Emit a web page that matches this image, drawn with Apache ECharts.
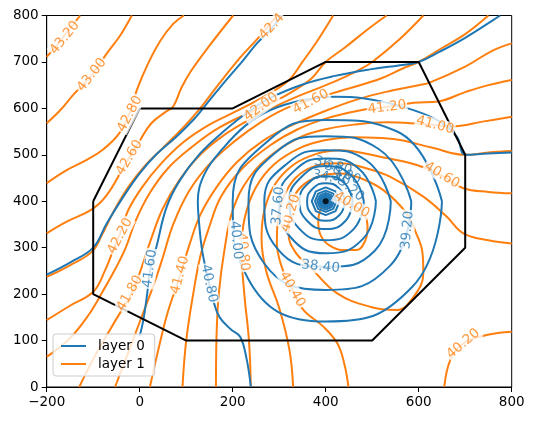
<!DOCTYPE html>
<html>
<head>
<meta charset="utf-8">
<script src="https://cdn.jsdelivr.net/npm/echarts/dist/echarts.min.js"></script>
<style>
  html, body { margin: 0; padding: 0; background: #fff; }
  #chart { width: 534px; height: 421px; }
</style>
</head>
<body>
<div id="chart"></div>
<script>
// axis ticks
const xTicks = [-200, 0, 200, 400, 600, 800];
const yTicks = [0, 100, 200, 300, 400, 500, 600, 700, 800];

// model boundary and well
const boundary = [[-100,400],[0,600],[200,600],[400,700],[600,700],[700,500],[700,300],[500,100],[100,100],[-100,200],[-100,400]];
const well = [[400,400]];

// layer 1 (orange) contour lines
const o432 = [[-200,711],[-175,740],[-150,772],[-128,800]];
const o430 = [[-200,568],[-171,596],[-143,629],[-103,672],[-71,718],[-42,757],[-17,800]];
const o428 = [[-200,439],[-157,467],[-114,489],[-78,512],[-45,545],[-22,590],[-6,640],[15,690],[44,745],[72,782],[95,800]];
const o426 = [[-200,331],[-157,356],[-102,383],[-71,413],[-32,478],[0,530],[25,568],[55,592],[72,604],[90,645],[110,680],[150,735],[201,800]];
const o424 = [[-200,237],[-150,262],[-102,292],[-80,330],[-55,380],[-25,430],[10,475],[50,515],[90,555],[130,600],[170,652],[215,708],[255,752],[295,800]];
const o422 = [[-200,144],[-150,175],[-100,205],[-75,250],[-55,300],[-42,331],[-25,380],[5,430],[45,480],[95,528],[150,565],[210,595],[270,627],[320,660],[350,700],[385,750],[416,800]];
const o420 = [[-200,65],[-150,105],[-110,155],[-80,205],[-52,255],[-30,300],[-10,355],[20,415],[60,470],[110,515],[170,558],[262,603],[300,620],[330,637],[370,665],[400,700],[440,730],[490,770],[531,800]];
const o418 = [[-130,0],[-100,60],[-60,130],[-30,180],[-14,209],[5,260],[25,320],[50,385],[85,445],[130,500],[185,545],[240,578],[300,608],[350,630],[420,658],[470,682],[500,700],[560,750],[610,800]];
const o416 = [[-53,0],[-30,60],[0,140],[30,220],[50,280],[72,350],[105,420],[150,480],[205,530],[260,570],[310,598],[366,618],[440,640],[520,665],[570,688],[600,700],[650,730],[700,760],[750,800]];
const o414 = [[22,0],[40,80],[60,160],[87,240],[105,300],[130,370],[165,430],[210,485],[265,530],[330,565],[400,595],[470,620],[540,638],[600,650],[622,655],[700,690],[760,725],[800,740]];
const o412 = [[92,0],[100,100],[115,200],[130,280],[148,340],[175,410],[220,470],[280,520],[340,555],[400,578],[470,595],[531,603],[590,612],[642,615],[700,635],[750,650],[800,661]];
const o410 = [[164,0],[165,100],[170,200],[183,300],[200,380],[235,450],[290,505],[350,540],[400,555],[460,565],[530,570],[600,567],[635,564],[670,561],[740,572],[800,582]];
const o408 = [[239,0],[235,100],[225,200],[219,295],[226,365],[250,430],[290,480],[345,515],[400,532],[460,538],[520,536],[560,532],[630,515],[700,500],[750,505],[800,508]];
const o406 = [[330,0],[322,80],[300,170],[272,250],[262,320],[268,380],[290,435],[330,478],[380,502],[431,510],[517,496],[596,478],[653,453],[696,428],[750,420],[800,417]];
const o404 = [[449,0],[440,50],[425,94],[395,130],[352,166],[327,212],[305,260],[295,310],[297,360],[310,410],[335,450],[375,475],[431,482],[490,470],[538,453],[610,410],[660,367],[696,331],[750,316],[800,309]];
const o402a = [[323,370],[320,330],[335,290],[366,259],[424,202],[495,173],[553,166],[589,194],[610,245],[608,290],[595,330],[574,374],[524,424],[474,450],[431,460],[390,455],[355,438],[332,410],[323,370]];
const o402b = [[655,0],[668,58],[696,94],[746,112],[800,119]];
const o400 = [[400,400],[388,380],[384,355],[390,325],[408,305],[435,295],[467,295],[485,315],[490,345],[484,370],[465,388],[440,398],[415,402],[400,400]];

// layer 0 (blue) contour lines
const b424 = [[-200,242],[-150,268],[-100,300],[-71,352],[-35,410],[0,460],[35,500],[80,540],[115,575],[137,601],[180,654],[223,704],[252,740],[280,768],[305,800]];
const b416 = [[0,110],[8,145],[16,200],[22,250],[36,302],[58,388],[87,446],[130,503],[180,550],[230,590],[280,622],[352,652],[420,670],[495,684],[560,693],[600,700],[645,722],[700,752],[760,790],[775,800]];
const b408 = [[239,0],[230,60],[216,108],[195,125],[172,150],[160,180],[151,216],[135,290],[128,350],[125,400],[140,460],[180,515],[230,565],[280,596],[352,618],[420,625],[480,622],[567,603],[639,575],[682,539],[700,500],[750,503],[800,505]];
const b400 = [[650,400],[551.3,551.3],[400,575],[272.7,527.3],[200,400],[233.1,233.1],[400,141],[585.3,214.7],[650,400]];
const b392 = [[584,400],[513.1,513.1],[400,540],[293.9,506.1],[234,400],[267.1,267.1],[400,209],[538.6,261.4],[584,400]];
const b384 = [[540,400],[487.7,487.7],[400,510],[318,482],[268,400],[296.8,296.8],[400,259],[506.1,293.9],[540,400]];
const b376 = [[508,400],[470.7,470.7],[400,492],[333.5,466.5],[300,400],[323.6,323.6],[400,288],[480.6,319.4],[508,400]];
const b368 = [[482,400],[455.2,455.2],[400,476],[347.7,452.3],[322,400],[342,342],[400,316],[460.1,339.9],[482,400]];
const b360 = [[458,400],[439.6,439.6],[400,454],[361.8,438.2],[344,400],[359,359],[400,340],[442.4,357.6],[458,400]];
const b352 = [[441,400],[428.3,428.3],[400,439],[372.4,427.6],[360,400],[371,371],[400,358],[429.7,370.3],[441,400]];
const b344 = [[430,400],[421.2,421.2],[400,430],[378.8,421.2],[370,400],[378.8,378.8],[400,370],[421.2,378.8],[430,400]];
const b336 = [[423,400],[416.3,416.3],[400,423],[383.7,416.3],[377,400],[383.7,383.7],[400,377],[416.3,383.7],[423,400]];
const b328 = [[418,400],[412.7,412.7],[400,418],[387.3,412.7],[382,400],[387.3,387.3],[400,382],[412.7,387.3],[418,400]];
const b320 = [[414,400],[409.9,409.9],[400,414],[390.1,409.9],[386,400],[390.1,390.1],[400,386],[409.9,390.1],[414,400]];
const b312 = [[411,400],[407.8,407.8],[400,411],[392.2,407.8],[389,400],[392.2,392.2],[400,389],[407.8,392.2],[411,400]];
const b304 = [[408,400],[405.7,405.7],[400,408],[394.3,405.7],[392,400],[394.3,394.3],[400,392],[405.7,394.3],[408,400]];
const b296 = [[406,400],[404.2,404.2],[400,406],[395.8,404.2],[394,400],[395.8,395.8],[400,394],[404.2,395.8],[406,400]];
const b288 = [[404,400],[402.8,402.8],[400,404],[397.2,402.8],[396,400],[397.2,397.2],[400,396],[402.8,397.2],[404,400]];

// contour labels
const orangeLabelText = ['43.20','43.00','42.80','42.60','42.4','42.20','42.00','41.80','41.60','41.40','41.20','41.00','40.80','40.60','40.40','40.20','40.00','40.20'];
const orangeLabelPos = [[-161,752],[-103,672],[-21,588],[-22,494],[284,776],[-42,325],[261,603],[-21,202],[368,614],[87,241],[532,602],[635,564],[222,291],[650,456],[328,210],[325,374],[456,392],[696,93]];
const orangeLabelAngle = [51,52,62,59,47,62,36,60,28,75,7,-15,-85,-31,-60,73,-31,40];

const blueLabelText = ['41.60','40.80','40.00','39.20','38.40','37.60','36.80','36.00','34.40','35.20'];
const blueLabelPos = [[22,255],[149,223],[207,316],[576,338],[389,259],[298,390],[416,476],[436,461],[412,450],[447,432]];
const blueLabelAngle = [82,-78,-85,85,-6,85,-16,-25,-10,-40];

const BLUE = '#1f77b4';
const ORANGE = '#ff7f0e';
const FONT = 'DejaVu Sans';

function contour(name, data, color, smooth) {
  return {
    type: 'line',
    name: name,
    data: data,
    symbol: 'none',
    showSymbol: false,
    smooth: smooth,
    color: color,
    lineStyle: { color: color, width: 2 },
    itemStyle: { color: color },
    silent: true,
    z: 2
  };
}

function labels(name, texts, pos, angles, color, boxed) {
  return {
    type: 'scatter',
    name: name,
    symbolSize: 1,
    itemStyle: { color: 'rgba(0,0,0,0)' },
    silent: true,
    z: 6,
    data: texts.map(function (t, i) {
      return {
        value: pos[i],
        label: {
          show: true,
          position: 'inside',
          formatter: t,
          rotate: angles[i],
          color: color,
          fontSize: 13.5,
          fontFamily: FONT,
          align: 'center',
          verticalAlign: 'middle',
          backgroundColor: boxed ? '#fff' : 'transparent',
          padding: [0, 1]
        }
      };
    })
  };
}

const orangeLines = [o432, o430, o428, o426, o424, o422, o420, o418, o416, o414, o412, o410, o408, o406, o404, o402a, o402b, o400];
const blueOpen = [b424, b416, b408];
const blueRings = [b400, b392, b384, b376, b368, b360, b352];
const blueCore = [b344, b336, b328, b320, b312, b304, b296, b288];

const series = [];
orangeLines.forEach(function (d) { series.push(contour('layer 1', d, ORANGE, 0.4)); });
blueOpen.forEach(function (d) { series.push(contour('layer 0', d, BLUE, 0.4)); });
blueRings.forEach(function (d) { series.push(contour('layer 0', d, BLUE, 0.5)); });
blueCore.forEach(function (d) { series.push(contour('layer 0', d, BLUE, false)); });
series.forEach(function (s) { if (s.name === 'layer 0') s.z = 3; });

series.push({
  type: 'line', name: 'boundary', data: boundary, symbol: 'none',
  lineStyle: { color: '#000', width: 2 }, itemStyle: { color: '#000' }, silent: true, z: 4
});
series.push({
  type: 'scatter', name: 'well', data: well, symbolSize: 6,
  itemStyle: { color: '#000' }, silent: true, z: 5
});
series.push(labels('orange labels', orangeLabelText, orangeLabelPos, orangeLabelAngle, ORANGE, true));
series.push(labels('blue labels', blueLabelText.slice(0, 6), blueLabelPos.slice(0, 6), blueLabelAngle.slice(0, 6), BLUE, true));
series.push(labels('blue core labels', blueLabelText.slice(6), blueLabelPos.slice(6), blueLabelAngle.slice(6), BLUE, false));

const chart = echarts.init(document.getElementById('chart'), null, { renderer: 'canvas' });
chart.setOption({
  animation: false,
  backgroundColor: '#fff',
  textStyle: { fontFamily: FONT },
  grid: {
    left: 46.7, top: 15.5, width: 465, height: 371.5,
    show: true, borderColor: '#000', borderWidth: 1, backgroundColor: 'transparent'
  },
  legend: {
    data: ['layer 0', 'layer 1'],
    orient: 'vertical',
    left: 53, top: 334,
    icon: 'rect',
    itemWidth: 25, itemHeight: 2,
    itemGap: 4,
    padding: [5, 10, 5, 8],
    borderColor: '#cccccc', borderWidth: 1, borderRadius: 3,
    backgroundColor: 'rgba(255,255,255,0.8)',
    textStyle: { color: '#000', fontSize: 13.5, fontFamily: FONT, padding: [0, 0, 0, 7] }
  },
  xAxis: {
    type: 'value',
    min: xTicks[0], max: xTicks[xTicks.length - 1], interval: xTicks[1] - xTicks[0],
    splitLine: { show: false },
    axisLine: { show: true, onZero: false, lineStyle: { color: '#000', width: 1 } },
    axisTick: { show: true, length: 5, lineStyle: { color: '#000' } },
    axisLabel: {
      color: '#000', fontSize: 13.5, fontFamily: FONT, margin: 8,
      formatter: function (v) { return String(v).replace('-', '\u2212'); }
    }
  },
  yAxis: {
    type: 'value',
    min: yTicks[0], max: yTicks[yTicks.length - 1], interval: yTicks[1] - yTicks[0],
    splitLine: { show: false },
    axisLine: { show: true, onZero: false, lineStyle: { color: '#000', width: 1 } },
    axisTick: { show: true, length: 5, lineStyle: { color: '#000' } },
    axisLabel: { color: '#000', fontSize: 13.5, fontFamily: FONT, margin: 8 }
  },
  series: series
});
</script>
</body>
</html>
